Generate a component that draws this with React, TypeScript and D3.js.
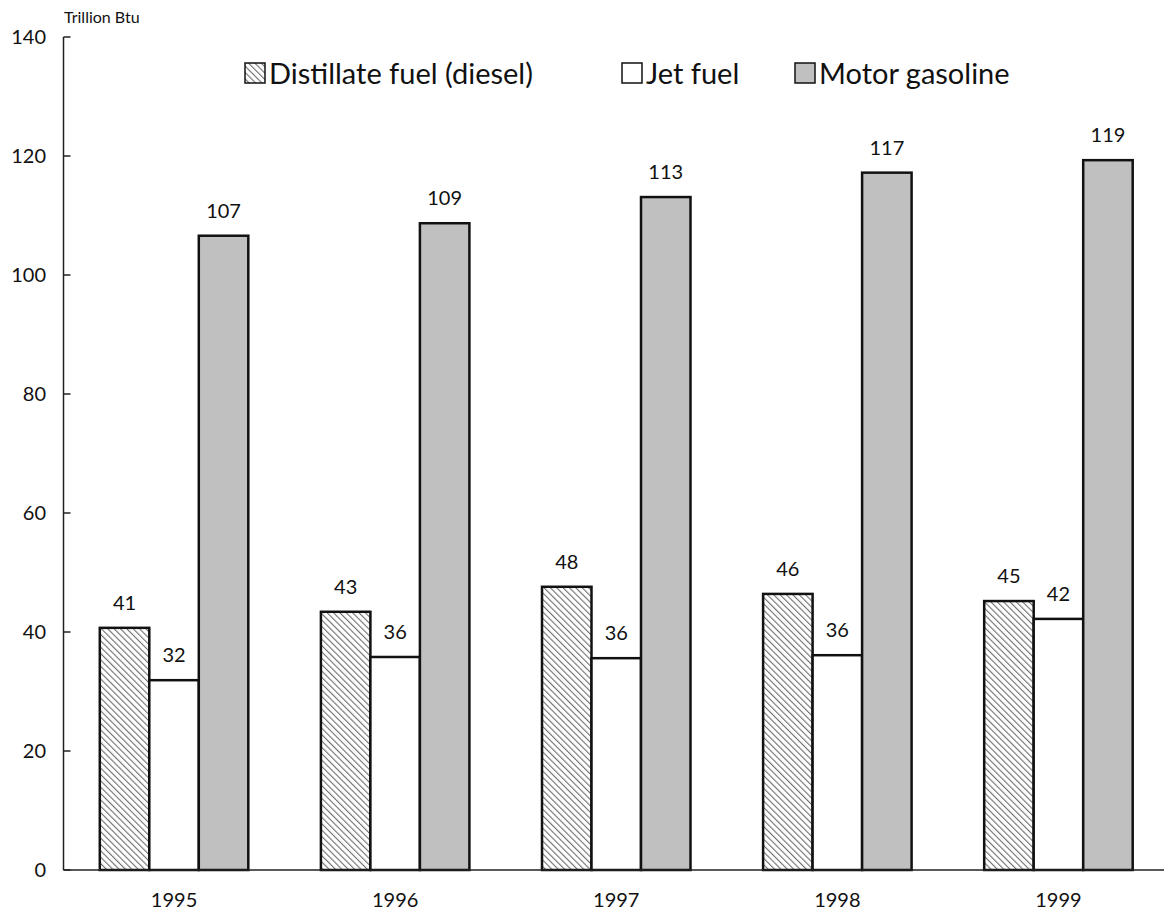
import { scaleBand, scaleLinear } from "d3";

const years = ["1995", "1996", "1997", "1998", "1999"];
const diesel = [40.7, 43.4, 47.6, 46.4, 45.2];
const jet = [31.9, 35.8, 35.6, 36.1, 42.2];
const gasoline = [106.6, 108.7, 113.1, 117.2, 119.3];
const yTicks = [0, 20, 40, 60, 80, 100, 120, 140];

const seriesNames = ["Distillate fuel (diesel)", "Jet fuel", "Motor gasoline"];
const seriesValues = [diesel, jet, gasoline];
const fills = ["url(#hatch)", "#ffffff", "#c0c0c0"];

const width = 1164;
const height = 915;
const left = 63.5;
const right = 1169;
const top = 37;
const bottom = 870;
const font = "Lato, 'Open Sans', sans-serif";

export default function App() {
  const x = scaleBand().domain(years).range([left, right]);
  const y = scaleLinear().domain([0, 140]).range([bottom, top]);
  const barWidth = 49.5;
  const groupOffset = (x.bandwidth() - barWidth * 3) / 2;

  const legendX = [245, 622, 795];

  return (
    <svg
      width={width}
      height={height}
      style={{ position: "absolute", left: 0, top: 0 }}
      fontFamily={font}
    >
      <defs>
        <pattern
          id="hatch"
          patternUnits="userSpaceOnUse"
          width={4.5}
          height={4.5}
          patternTransform="rotate(-45)"
        >
          <rect width={4.5} height={4.5} fill="#ffffff" />
          <line x1={0} y1={0} x2={0} y2={4.5} stroke="#6e6e6e" strokeWidth={2.2} />
        </pattern>
      </defs>
      <rect width={width} height={height} fill="#ffffff" />

      <text x={64} y={23} fontSize={16} fill="#111">
        Trillion Btu
      </text>

      {/* y axis */}
      <line x1={left} x2={left} y1={top} y2={bottom} stroke="#222" strokeWidth={1.5} />
      {yTicks.map((t) => (
        <g key={t}>
          <line x1={left} x2={left + 7} y1={y(t)} y2={y(t)} stroke="#222" strokeWidth={1.5} />
          <text x={46} y={y(t)} dy="0.35em" textAnchor="end" fontSize={20} fill="#111">
            {t}
          </text>
        </g>
      ))}

      {/* bars */}
      {years.map((yr, i) => (
        <g key={yr}>
          {seriesValues.map((vals, s) => {
            const bx = (x(yr) ?? 0) + groupOffset + s * barWidth;
            return (
              <g key={s}>
                <rect
                  x={bx}
                  y={y(vals[i])}
                  width={barWidth}
                  height={bottom - y(vals[i])}
                  fill={fills[s]}
                  stroke="#111"
                  strokeWidth={2.5}
                />
                <text
                  x={bx + barWidth / 2}
                  y={y(vals[i]) - 18}
                  textAnchor="middle"
                  fontSize={20}
                  fill="#111"
                >
                  {Math.round(vals[i])}
                </text>
              </g>
            );
          })}
          <text
            x={(x(yr) ?? 0) + x.bandwidth() / 2}
            y={907}
            textAnchor="middle"
            fontSize={20}
            fill="#111"
          >
            {yr}
          </text>
        </g>
      ))}

      {/* x axis */}
      <line x1={left} x2={width} y1={bottom} y2={bottom} stroke="#222" strokeWidth={1.5} />

      {/* legend */}
      {seriesNames.map((name, s) => (
        <g key={name}>
          <rect
            x={legendX[s]}
            y={63}
            width={20}
            height={20}
            fill={fills[s]}
            stroke="#111"
            strokeWidth={1.5}
          />
          <text x={legendX[s] + 24} y={84} fontSize={29} fill="#111">
            {name}
          </text>
        </g>
      ))}
    </svg>
  );
}
